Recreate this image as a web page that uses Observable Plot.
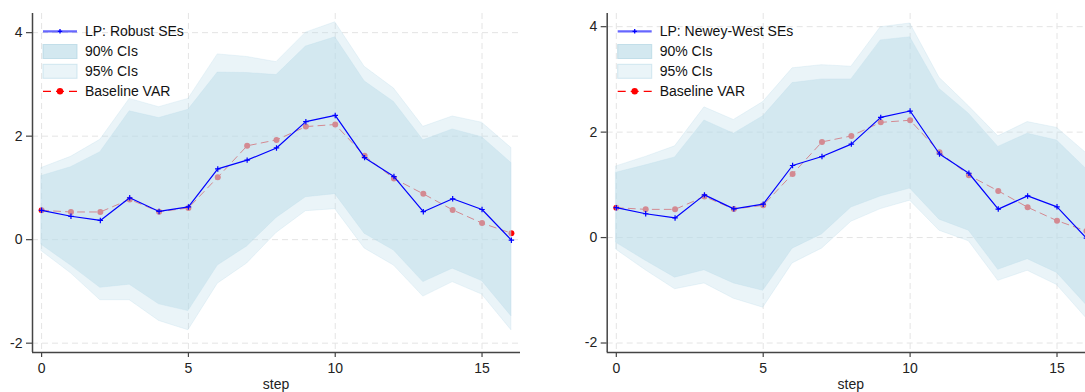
<!DOCTYPE html>
<html><head><meta charset="utf-8">
<script src="https://cdn.jsdelivr.net/npm/d3@7"></script>
<script src="https://cdn.jsdelivr.net/npm/@observablehq/plot@0.6"></script>
<style>
html,body{margin:0;padding:0;background:#fff;overflow:hidden;width:1085px;height:392px}
#row{position:relative;width:1085px;height:392px;overflow:hidden}
.panel{position:absolute;top:0;height:392px}
.panel svg{overflow:visible;max-width:none !important;display:block}
</style></head><body>
<div id="row"><div class="panel" id="p1" style="left:0px;width:540px"></div><div class="panel" id="p2" style="left:540px;width:575px"></div></div>
<script>
// ---- data ----
const steps = [0,1,2,3,4,5,6,7,8,9,10,11,12,13,14,15,16];
const xTicks = [0,5,10,15];
const yTicks = [-2,0,2,4];
// local projection point estimates (same in both panels)
const lp = [0.567,0.452,0.372,0.81,0.545,0.633,1.367,1.537,1.772,2.28,2.40,1.585,1.22,0.54,0.79,0.583,-0.01];
// baseline VAR impulse response
const baseVar = [0.567,0.535,0.535,0.778,0.54,0.612,1.207,1.814,1.928,2.185,2.225,1.62,1.18,0.885,0.575,0.32,0.125];
// Robust SEs bands
const robHi95 = [1.385,1.60,1.93,2.72,2.56,2.72,3.58,3.53,3.43,4.00,4.20,3.34,2.92,2.18,2.38,2.26,1.77];
const robHi90 = [1.23,1.40,1.69,2.48,2.35,2.51,3.23,3.22,3.18,3.73,3.91,3.06,2.66,1.92,2.13,1.98,1.48];
const robLo90 = [-0.10,-0.50,-0.93,-0.87,-1.25,-1.38,-0.50,-0.13,0.42,0.82,0.88,0.115,-0.21,-0.82,-0.56,-0.80,-1.48];
const robLo95 = [-0.22,-0.65,-1.17,-1.17,-1.57,-1.75,-0.85,-0.46,0.13,0.55,0.59,-0.17,-0.50,-1.10,-0.82,-1.06,-1.75];
// Newey-West SEs bands
const nwHi95 = [1.35,1.53,1.73,2.47,2.23,2.57,3.21,3.27,3.24,3.99,4.06,3.03,2.49,1.92,2.19,2.08,1.60];
const nwHi90 = [1.23,1.37,1.52,2.22,1.97,2.30,2.93,3.00,3.00,3.74,3.80,2.82,2.35,1.72,1.97,1.84,1.30];
const nwLo90 = [-0.10,-0.44,-0.76,-0.62,-0.87,-1.01,-0.21,0.06,0.57,0.78,0.93,0.34,0.13,-0.61,-0.41,-0.67,-1.28];
const nwLo95 = [-0.23,-0.62,-0.98,-0.87,-1.16,-1.33,-0.49,-0.21,0.30,0.54,0.70,0.13,-0.07,-0.82,-0.63,-0.90,-1.53];
const legendLabels = ["90% CIs","95% CIs","Baseline VAR"];

const FONT = "'Liberation Sans', Arial, Helvetica, sans-serif";
const BAND = "#b9dae8";

function panel(el, {hi95, hi90, lo90, lo95, yDomain, marginLeft, width, lpLabel}) {
  const rows = steps.map((s, i) => ({step: s, lp: lp[i], v: baseVar[i], hi95: hi95[i], hi90: hi90[i], lo90: lo90[i], lo95: lo95[i]}));
  const xDomain = [-0.31, 16.31];
  const H = 392, mT = 13, mB = 40;
  const chart = Plot.plot({
    width, height: H, marginLeft, marginRight: 20, marginTop: mT, marginBottom: mB,
    style: {fontFamily: FONT, fontSize: "14px", color: "#222", background: "transparent", overflow: "visible"},
    x: {domain: xDomain, ticks: xTicks, tickSize: 5, tickPadding: 6, label: null, tickFormat: d => String(d)},
    y: {domain: yDomain, ticks: yTicks, tickSize: 6, tickPadding: 4, label: null, tickFormat: d => String(d)},
    marks: [
      Plot.ruleX(xTicks, {stroke: "#e4e4e4", strokeWidth: 1, strokeDasharray: "6,4"}),
      Plot.ruleY(yTicks, {stroke: "#e4e4e4", strokeWidth: 1, strokeDasharray: "6,4"}),
      Plot.line(rows, {x: "step", y: "v", stroke: "#ff0000", strokeWidth: 1, strokeDasharray: "7,5"}),
      Plot.dot(rows, {x: "step", y: "v", r: 3, fill: "#ff0000", stroke: "none"}),
      Plot.areaY(rows, {x: "step", y1: "lo95", y2: "hi95", fill: BAND, fillOpacity: 0.30, stroke: BAND, strokeOpacity: 0.35, strokeWidth: 0.8}),
      Plot.areaY(rows, {x: "step", y1: "lo90", y2: "hi90", fill: BAND, fillOpacity: 0.47, stroke: BAND, strokeOpacity: 0.35, strokeWidth: 0.8}),
      Plot.line(rows, {x: "step", y: "lp", stroke: "#0000ff", strokeWidth: 1.2}),
      Plot.dot(rows, {x: "step", y: "lp", symbol: "plus", r: 1.9, stroke: "#0000ff", strokeWidth: 1.2}),
      Plot.ruleX([xDomain[0]], {stroke: "#444", strokeWidth: 1.5}),
      Plot.ruleY([yDomain[0]], {stroke: "#444", strokeWidth: 1.5})
    ]
  });
  el.appendChild(chart);
  const svg = d3.select(chart.tagName.toLowerCase() === "svg" ? chart : chart.querySelector("svg"));
  svg.selectAll("g[aria-label='x-axis tick'] path, g[aria-label='y-axis tick'] path").attr("stroke", "#444").attr("stroke-width", 1.2);

  // x axis title
  const plotL = marginLeft, plotR = width - 20;
  svg.append("text").attr("x", (plotL + plotR) / 2).attr("y", 389)
    .attr("text-anchor", "middle").attr("font-family", FONT).attr("font-size", 14).attr("fill", "#222").text("step");

  // legend (inside the plot area, top-left)
  const g = svg.append("g").attr("font-family", FONT).attr("font-size", 14).attr("fill", "#111").attr("text-anchor", "start");
  const sx0 = marginLeft + 11, sx1 = marginLeft + 45, tx = marginLeft + 53;
  const rowsY = [31.3, 51.5, 71.3, 91.3];
  // LP row
  g.append("line").attr("x1", sx0).attr("x2", sx1).attr("y1", rowsY[0]).attr("y2", rowsY[0])
    .attr("stroke", "#0000ff").attr("stroke-opacity", 0.6).attr("stroke-width", 2.2);
  const mx = (sx0 + sx1) / 2;
  g.append("path").attr("d", `M${mx-2.2},${rowsY[0]}H${mx+2.2}M${mx},${rowsY[0]-2.2}V${rowsY[0]+2.2}`)
    .attr("stroke", "#0000ff").attr("stroke-width", 1.3);
  g.append("text").attr("x", tx).attr("y", rowsY[0]).attr("dy", "0.35em").attr("text-anchor", "start").text(lpLabel);
  // 90% band
  g.append("rect").attr("x", sx0).attr("y", rowsY[1] - 7).attr("width", sx1 - sx0).attr("height", 14)
    .attr("fill", BAND).attr("fill-opacity", 0.63).attr("stroke", "#a9d0df").attr("stroke-opacity", 0.6).attr("stroke-width", 1);
  g.append("text").attr("x", tx).attr("y", rowsY[1]).attr("dy", "0.35em").attr("text-anchor", "start").text(legendLabels[0]);
  // 95% band
  g.append("rect").attr("x", sx0).attr("y", rowsY[2] - 7).attr("width", sx1 - sx0).attr("height", 14)
    .attr("fill", BAND).attr("fill-opacity", 0.30).attr("stroke", "#b9dae8").attr("stroke-opacity", 0.6).attr("stroke-width", 1);
  g.append("text").attr("x", tx).attr("y", rowsY[2]).attr("dy", "0.35em").attr("text-anchor", "start").text(legendLabels[1]);
  // VAR row
  g.append("path").attr("d", `M${sx0},${rowsY[3]}H${sx0+8}M${mx-4},${rowsY[3]}H${mx+4}M${sx1-8},${rowsY[3]}H${sx1}`)
    .attr("stroke", "#ff0000").attr("stroke-width", 1.2);
  g.append("circle").attr("cx", mx).attr("cy", rowsY[3]).attr("r", 3.2).attr("fill", "#ff0000");
  g.append("text").attr("x", tx).attr("y", rowsY[3]).attr("dy", "0.35em").attr("text-anchor", "start").text(legendLabels[2]);
}

panel(document.getElementById("p1"), {hi95: robHi95, hi90: robHi90, lo90: robLo90, lo95: robLo95,
  yDomain: [-2.18, 4.37], marginLeft: 32, width: 540, lpLabel: "LP: Robust SEs"});
panel(document.getElementById("p2"), {hi95: nwHi95, hi90: nwHi90, lo90: nwLo90, lo95: nwLo95,
  yDomain: [-2.18, 4.25], marginLeft: 66.7, width: 575, lpLabel: "LP: Newey-West SEs"});
</script>
</body></html>
